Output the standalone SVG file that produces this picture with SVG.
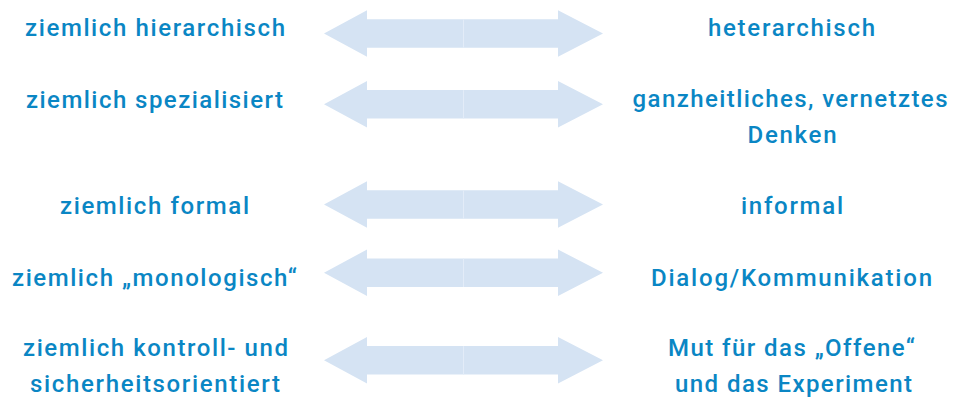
<svg xmlns="http://www.w3.org/2000/svg" width="954" height="399" viewBox="0 0 954 399">
<defs>
<style>
text{font-family:Roboto,"Liberation Sans",sans-serif;font-size:24px;font-weight:500;fill:#0a86c4;text-anchor:middle}
.arr{fill:#d5e3f3}
.seam{stroke:#e3ecf8;stroke-width:1}
</style>
<g id="arrowShape">
<path class="arr" d="M324,0 L367,-23.3 L367,-14.2 L558,-14.2 L558,-23.3 L603,0 L558,23.3 L558,14.2 L367,14.2 L367,23.3 Z"/>
<line class="seam" x1="463.5" y1="-14.2" x2="463.5" y2="14.2"/>
</g>
</defs>
<rect width="954" height="399" fill="#fff"/>
<g id="connectors">
<use href="#arrowShape" transform="translate(0,33.5)"/>
<use href="#arrowShape" transform="translate(0,104.3)"/>
<use href="#arrowShape" transform="translate(0,204.5)"/>
<use href="#arrowShape" transform="translate(0,272.8)"/>
<use href="#arrowShape" transform="translate(0,360.3)"/>
</g>
<g id="left1"><text x="155" y="36" textLength="260">ziemlich hierarchisch</text></g>
<g id="left2"><text x="154.5" y="108" textLength="257">ziemlich spezialisiert</text></g>
<g id="left3"><text x="154.5" y="214" textLength="189">ziemlich formal</text></g>
<g id="left4"><text x="154.5" y="286" textLength="285">ziemlich „monologisch“</text></g>
<g id="left5"><text x="155.5" y="356" textLength="265">ziemlich kontroll- und</text><text x="155" y="392" textLength="250">sicherheitsorientiert</text></g>
<g id="right1"><text x="791.5" y="36" textLength="167">heterarchisch</text></g>
<g id="right2"><text x="790" y="107" textLength="315">ganzheitliches, vernetztes</text><text x="792" y="143" textLength="89">Denken</text></g>
<g id="right3"><text x="792" y="214" textLength="102">informal</text></g>
<g id="right4"><text x="791.5" y="286" textLength="281">Dialog/Kommunikation</text></g>
<g id="right5"><text x="791.5" y="356" textLength="247">Mut für das „Offene“</text><text x="793.5" y="392" textLength="237">und das Experiment</text></g>
</svg>
